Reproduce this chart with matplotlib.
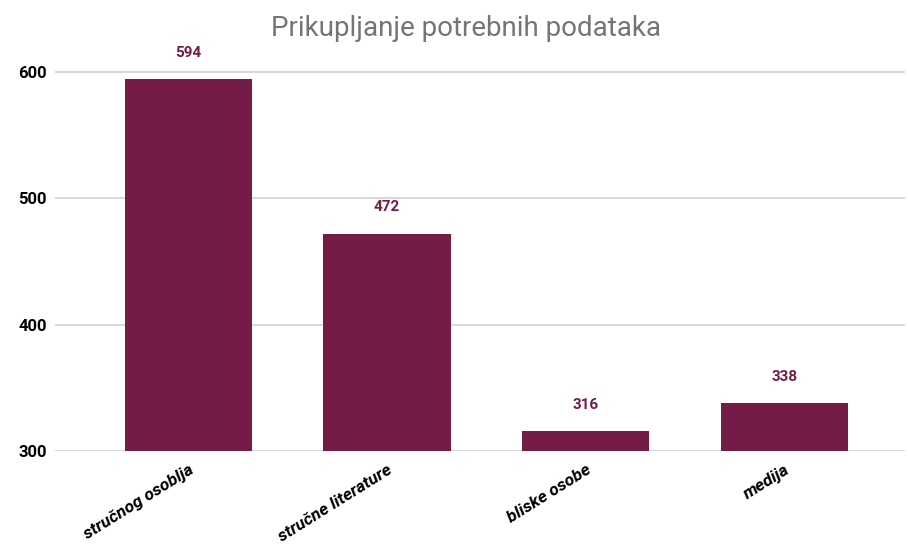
import matplotlib.pyplot as plt

categories = ['stručnog osoblja', 'stručne literature', 'bliske osobe', 'medija']
values = [594, 472, 316, 338]
yticks = [300, 400, 500, 600]

bar_color = '#741b47'

plt.rcParams['font.family'] = ['Roboto', 'DejaVu Sans']

fig = plt.figure(figsize=(9.08, 5.49), dpi=100)
ax = fig.add_axes([0.061, 0.178, 0.936, 0.749])

x = range(len(categories))
bars = ax.bar(x, values, width=0.64, color=bar_color, zorder=3)

for xi, v in zip(x, values):
    ax.annotate(str(v), (xi, v), xytext=(0, 14), textcoords='offset points',
                ha='center', va='bottom', color=bar_color,
                fontsize=11, fontweight='bold')

ax.set_ylim(300, 625)
ax.set_xlim(-0.67, 3.61)
ax.set_yticks(yticks)
ax.set_yticklabels([str(t) for t in yticks], fontsize=12, fontweight='bold')
ax.set_xticks(list(x))
ax.set_xticklabels(categories, rotation=32, ha='right', rotation_mode='anchor',
                   fontsize=12.5, fontweight='bold', style='italic')
ax.tick_params(axis='both', length=0, pad=6)
ax.tick_params(axis='x', pad=8)

ax.grid(axis='y', color='#d9d9d9', linewidth=1.5, zorder=0)
for s in ax.spines.values():
    s.set_visible(False)

fig.suptitle('Prikupljanje potrebnih podataka', x=0.513, y=0.972,
             fontsize=20, color='#757575')

fig.savefig('out.png', dpi=100)
